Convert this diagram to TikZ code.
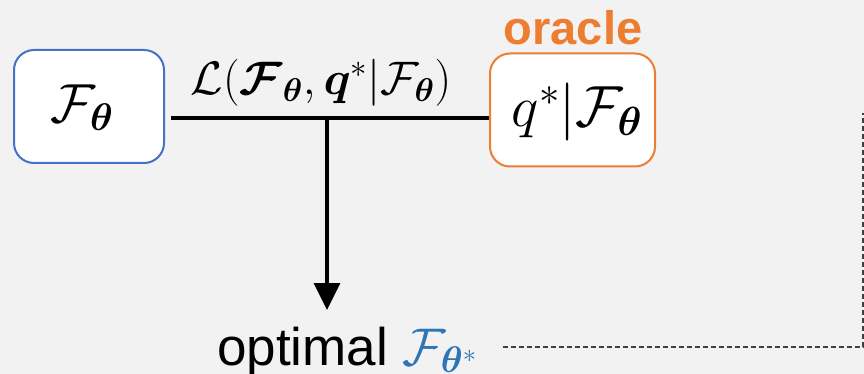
\RequirePackage{fix-cm}
\documentclass[tikz,border=0pt]{standalone}
\usepackage{fontspec}
\usepackage{amsmath,bm}
\newfontfamily\arialfont{Liberation Sans}
\usetikzlibrary{arrows.meta}
\definecolor{bgcol}{HTML}{F2F2F2}
\definecolor{boxblue}{HTML}{4472C4}
\definecolor{boxorange}{HTML}{ED7D31}
\definecolor{textblue}{HTML}{2E75B6}
\definecolor{dashgray}{HTML}{404040}
\tikzset{
  roundbox/.style={rounded corners=20pt, fill=white, line width=2pt, inner sep=0pt},
  mainline/.style={line width=3.2pt, draw=black},
  dashline/.style={line width=1.4pt, draw=dashgray, dash pattern=on 5pt off 3pt},
}
\begin{document}
\begin{tikzpicture}[x=1pt,y=-1pt]
\path[fill=bgcol] (0,0) rectangle (864,374);
\useasboundingbox (0,0) rectangle (864,374);

\node[roundbox, draw=boxblue, minimum width=150pt, minimum height=113pt] (fb) at (89,106.5) {};
\node[inner sep=0pt] (fbtext) at (82,108)
  {\fontsize{55}{60}\selectfont$\mathcal{F}_{\bm{\theta}}$};
\node[roundbox, draw=boxorange, minimum width=165pt, minimum height=113pt] (orc) at (572.5,110) {};
\node[inner sep=0pt] (orctext) at (577,112)
  {\fontsize{58}{64}\selectfont$q^{*}|\mathcal{F}_{\bm{\theta}}$};
\node[anchor=base, text=boxorange, inner sep=0pt] (oracle) at (573,45)
  {\fontsize{47}{52}\selectfont\arialfont\bfseries oracle};

\coordinate (j) at (327,118);
\coordinate (tip) at (327,310);

\node[inner sep=0pt] (lab) at (321,83)
  {\fontsize{47}{52}\selectfont$\mathcal{L}(\bm{\mathcal{F}}_{\bm{\theta}},\bm{q}^{*}|\mathcal{F}_{\bm{\theta}})$};

\node[anchor=base west, inner sep=0pt] (opt) at (217,365)
  {\fontsize{53}{58}\selectfont\arialfont optimal \textcolor{textblue}{$\mathcal{F}_{\bm{\theta}^{*}}$}};

\draw[mainline] ([xshift=6pt]fb.east |- j) -- (j -| orc.west);
\draw[mainline, -{Triangle[length=27pt,width=26pt]}] (j) -- (tip);

\coordinate (dstart) at (503,347);
\coordinate (dend) at (863,113);
\draw[dashline] (dstart) -- (dstart -| dend) -- (dend);
\end{tikzpicture}
\end{document}
